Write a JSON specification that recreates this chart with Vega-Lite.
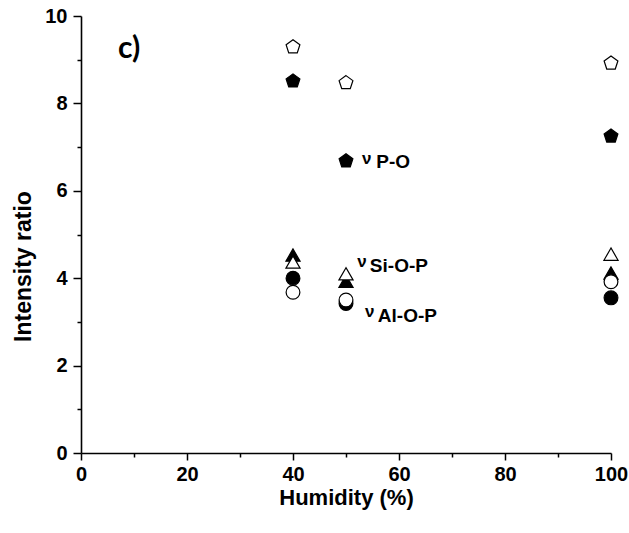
{
  "$schema": "https://vega.github.io/schema/vega-lite/v6.json",
  "width": 530,
  "height": 437,
  "autosize": {"type": "none"},
  "padding": {"left": 81, "top": 16, "right": 18, "bottom": 80},
  "background": "white",
  "config": {
    "view": {"stroke": null},
    "font": "Liberation Sans",
    "axis": {
      "grid": false,
      "domainColor": "black",
      "domainWidth": 1.6,
      "tickColor": "black",
      "tickWidth": 1.5,
      "labelFont": "Liberation Sans",
      "labelFontWeight": "bold",
      "labelFontSize": 20,
      "labelColor": "black",
      "titleFont": "Liberation Sans",
      "titleFontWeight": "bold",
      "titleFontSize": 22,
      "titleColor": "black"
    }
  },
  "datasets": {
    "points": [
      {"humidity": 40, "ratio": 8.51, "band": "P-O", "sample": "filled"},
      {"humidity": 50, "ratio": 6.68, "band": "P-O", "sample": "filled"},
      {"humidity": 100, "ratio": 7.25, "band": "P-O", "sample": "filled"},
      {"humidity": 40, "ratio": 4.53, "band": "Si-O-P", "sample": "filled"},
      {"humidity": 50, "ratio": 3.93, "band": "Si-O-P", "sample": "filled"},
      {"humidity": 100, "ratio": 4.12, "band": "Si-O-P", "sample": "filled"},
      {"humidity": 40, "ratio": 4.0, "band": "Al-O-P", "sample": "filled"},
      {"humidity": 50, "ratio": 3.42, "band": "Al-O-P", "sample": "filled"},
      {"humidity": 100, "ratio": 3.55, "band": "Al-O-P", "sample": "filled"},
      {"humidity": 40, "ratio": 9.29, "band": "P-O", "sample": "open"},
      {"humidity": 50, "ratio": 8.47, "band": "P-O", "sample": "open"},
      {"humidity": 100, "ratio": 8.92, "band": "P-O", "sample": "open"},
      {"humidity": 40, "ratio": 4.37, "band": "Si-O-P", "sample": "open"},
      {"humidity": 50, "ratio": 4.1, "band": "Si-O-P", "sample": "open"},
      {"humidity": 100, "ratio": 4.55, "band": "Si-O-P", "sample": "open"},
      {"humidity": 40, "ratio": 3.68, "band": "Al-O-P", "sample": "open"},
      {"humidity": 50, "ratio": 3.5, "band": "Al-O-P", "sample": "open"},
      {"humidity": 100, "ratio": 3.92, "band": "Al-O-P", "sample": "open"}
    ],
    "bandLabels": [
      {"text": "P-O", "h": 55.7, "v": 6.52},
      {"text": "Si-O-P", "h": 54.5, "v": 4.14},
      {"text": "Al-O-P", "h": 56.0, "v": 3.0}
    ],
    "nuLabels": [
      {"text": "ν", "h": 53.0, "v": 6.62},
      {"text": "ν", "h": 52.1, "v": 4.26},
      {"text": "ν", "h": 53.6, "v": 3.12}
    ],
    "panel": [
      {"text": "c)", "h": 7.0, "v": 9.25}
    ]
  },
  "layer": [
    {
      "data": {"name": "points"},
      "mark": {"type": "point", "filled": true, "stroke": "black", "strokeWidth": 1.2, "opacity": 1, "clip": false},
      "encoding": {
        "x": {
          "field": "humidity", "type": "quantitative",
          "scale": {"domain": [0, 100], "nice": false, "zero": false},
          "axis": {
            "title": "Humidity (%)",
            "values": [0, 10, 20, 30, 40, 50, 60, 70, 80, 90, 100],
            "labelExpr": "datum.value % 20 === 0 ? datum.label : ''",
            "tickSize": {"condition": {"test": "datum.value % 20 === 0", "value": 7}, "value": 4},
            "labelPadding": 4,
            "titlePadding": 3,
            "labelFlush": false
          }
        },
        "y": {
          "field": "ratio", "type": "quantitative",
          "scale": {"domain": [0, 10], "nice": false, "zero": false},
          "axis": {
            "title": "Intensity ratio",
            "titleFontSize": 23,
            "titleY": 250,
            "values": [0, 1, 2, 3, 4, 5, 6, 7, 8, 9, 10],
            "labelExpr": "datum.value % 2 === 0 ? datum.label : ''",
            "tickSize": {"condition": {"test": "datum.value % 2 === 0", "value": 8}, "value": 4},
            "labelPadding": 6,
            "titlePadding": 9,
            "labelFlush": false
          }
        },
        "shape": {
          "field": "band", "type": "nominal", "legend": null,
          "scale": {
            "domain": ["P-O", "Si-O-P", "Al-O-P"],
            "range": ["M0,-1L0.951,-0.309L0.588,0.809L-0.588,0.809L-0.951,-0.309Z", "triangle-up", "circle"]
          }
        },
        "fill": {
          "field": "sample", "type": "nominal", "legend": null,
          "scale": {"domain": ["filled", "open"], "range": ["black", "white"]}
        },
        "size": {
          "field": "band", "type": "nominal", "legend": null,
          "scale": {"domain": ["P-O", "Si-O-P", "Al-O-P"], "range": [210, 190, 140]}
        }
      }
    },
    {
      "data": {"name": "bandLabels"},
      "mark": {"type": "text", "align": "left", "baseline": "alphabetic", "font": "Liberation Sans", "fontWeight": "bold", "fontSize": 19, "color": "black"},
      "encoding": {
        "x": {"field": "h", "type": "quantitative"},
        "y": {"field": "v", "type": "quantitative"},
        "text": {"field": "text"}
      }
    },
    {
      "data": {"name": "nuLabels"},
      "mark": {"type": "text", "align": "left", "baseline": "alphabetic", "font": "Liberation Sans", "fontWeight": "bold", "fontSize": 17, "color": "black"},
      "encoding": {
        "x": {"field": "h", "type": "quantitative"},
        "y": {"field": "v", "type": "quantitative"},
        "text": {"field": "text"}
      }
    },
    {
      "data": {"name": "panel"},
      "mark": {"type": "text", "align": "left", "baseline": "middle", "font": "Lato", "fontWeight": "bold", "fontSize": 30, "color": "black"},
      "encoding": {
        "x": {"field": "h", "type": "quantitative"},
        "y": {"field": "v", "type": "quantitative"},
        "text": {"field": "text"}
      }
    }
  ]
}
